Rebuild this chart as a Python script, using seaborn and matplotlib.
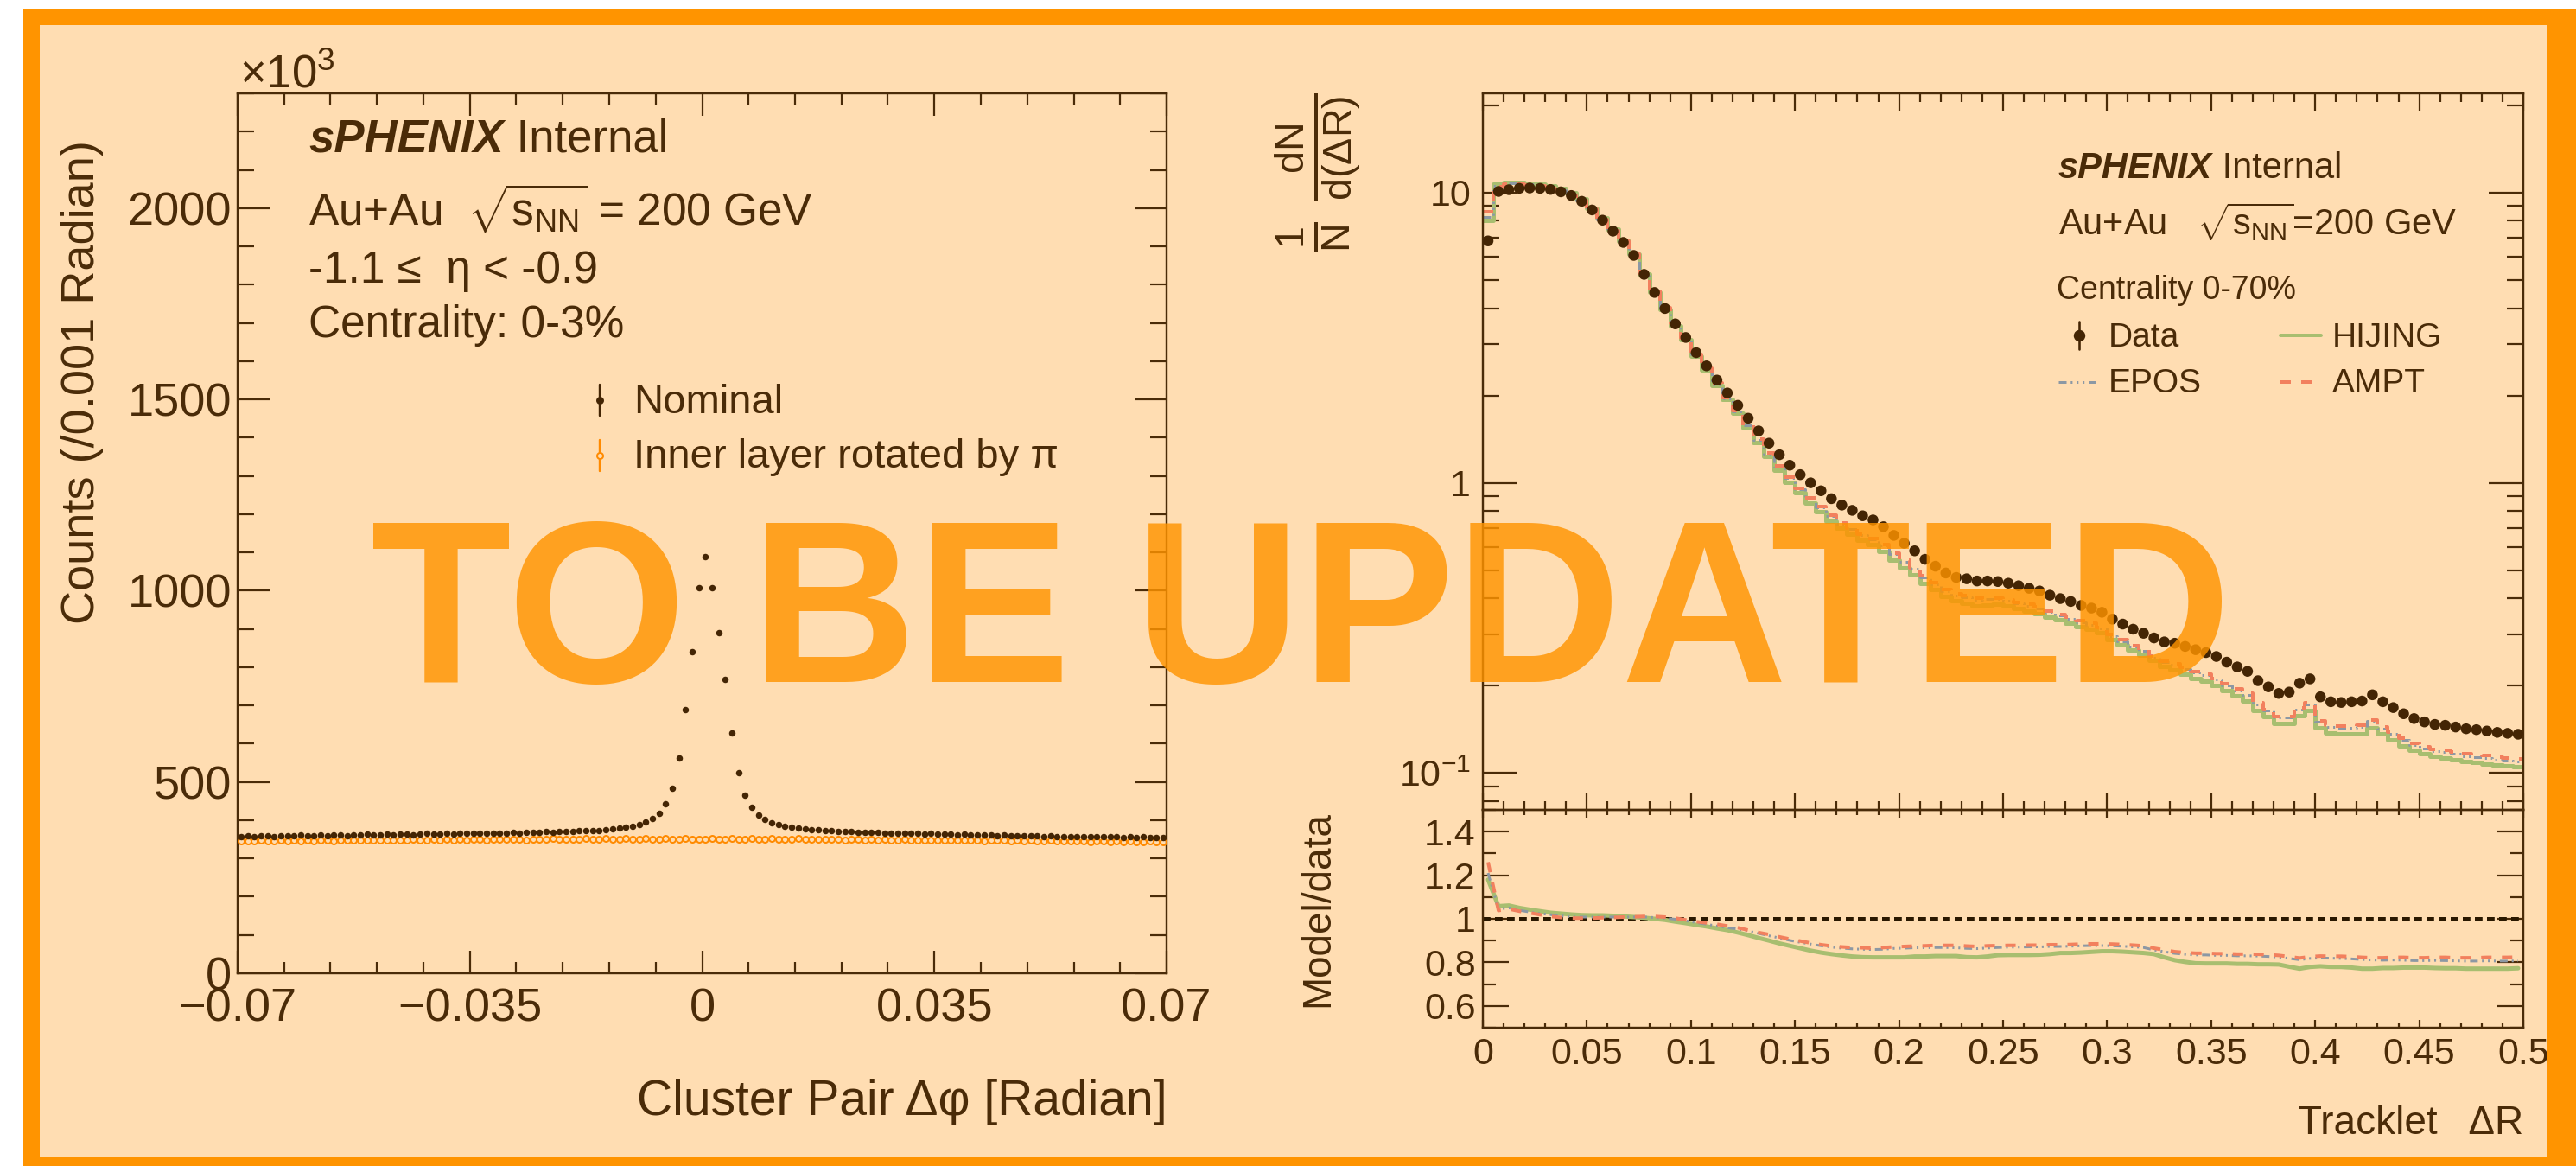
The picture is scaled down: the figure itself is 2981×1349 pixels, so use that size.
import numpy as np
import pandas as pd
import seaborn as sns
import matplotlib
matplotlib.use("Agg")
import matplotlib.pyplot as plt
from matplotlib.patches import Rectangle
from matplotlib.lines import Line2D
from matplotlib.ticker import FixedLocator, FixedFormatter, MultipleLocator, NullFormatter

# ---------------------------------------------------------------- data
# Left panel: cluster pair delta-phi, 140 bins of 0.001 rad in [-0.07, 0.07], counts in units of 10^3
dphi_edges = np.linspace(-0.07, 0.07, 141)
nominal_k = [
    358, 359, 357, 359, 360, 358, 359, 360, 359, 361,
    360, 359, 361, 360, 362, 361, 360, 362, 361, 363,
    362, 361, 363, 362, 364, 363, 362, 364, 365, 363,
    364, 365, 364, 366, 365, 366, 365, 367, 366, 367,
    367, 368, 367, 368, 369, 368, 370, 369, 370, 371,
    371, 372, 372, 373, 372, 376, 377, 379, 382, 385,
    389, 396, 405, 418, 442, 483, 563, 689, 841, 1008,
    1090, 1007, 891, 768, 627, 525, 465, 434, 413, 402,
    394, 388, 384, 381, 379, 377, 375, 374, 372, 372,
    371, 370, 370, 369, 369, 368, 368, 367, 367, 366,
    366, 365, 366, 364, 365, 364, 363, 364, 362, 363,
    362, 361, 362, 361, 360, 361, 360, 359, 360, 359,
    359, 358, 359, 358, 357, 358, 357, 358, 356, 357,
    356, 357, 356, 355, 356, 355, 356, 355, 354, 355]
inner_rotated_k = [
    345, 346, 345, 347, 346, 345, 347, 346, 347, 346,
    347, 346, 348, 347, 346, 348, 347, 348, 347, 349,
    348, 347, 349, 348, 349, 348, 350, 349, 348, 350,
    349, 350, 349, 350, 349, 351, 350, 349, 351, 350,
    350, 351, 350, 349, 351, 350, 351, 352, 350, 351,
    351, 350, 352, 351, 350, 352, 351, 350, 352, 351,
    351, 352, 350, 351, 352, 351, 350, 352, 351, 351,
    351, 352, 351, 350, 352, 351, 350, 352, 351, 350,
    352, 351, 350, 351, 352, 350, 351, 350, 351, 350,
    351, 349, 350, 351, 349, 350, 349, 350, 348, 349,
    350, 348, 349, 348, 349, 347, 348, 349, 347, 348,
    347, 348, 346, 347, 348, 347, 346, 347, 346, 347,
    346, 345, 347, 346, 345, 346, 345, 346, 344, 345,
    346, 344, 345, 344, 345, 344, 343, 345, 344, 344]

# Right panel: tracklet delta-R, 100 bins of 0.005 in [0, 0.5]
dr_edges = np.linspace(0.0, 0.5, 101)
data_dndr = [
    6.82, 10.1, 10.24, 10.35, 10.38, 10.35, 10.26, 10.07, 9.78, 9.34,
    8.72, 8.04, 7.37, 6.74, 6.08, 5.23, 4.53, 3.99, 3.53, 3.17,
    2.81, 2.53, 2.26, 2.04, 1.85, 1.67, 1.51, 1.37, 1.25, 1.15,
    1.067, 1.00, 0.939, 0.882, 0.838, 0.804, 0.770, 0.745, 0.706, 0.659,
    0.619, 0.583, 0.545, 0.516, 0.489, 0.472, 0.467, 0.459, 0.459, 0.457,
    0.451, 0.442, 0.433, 0.424, 0.410, 0.399, 0.390, 0.378, 0.370, 0.358,
    0.339, 0.326, 0.313, 0.303, 0.292, 0.283, 0.280, 0.273, 0.266, 0.260,
    0.252, 0.241, 0.232, 0.224, 0.208, 0.198, 0.188, 0.190, 0.204, 0.211,
    0.183, 0.176, 0.175, 0.176, 0.177, 0.186, 0.176, 0.168, 0.160, 0.154,
    0.150, 0.147, 0.146, 0.144, 0.142, 0.141, 0.1395, 0.138, 0.137, 0.136]
hijing_ratio = [
    1.18, 1.058, 1.061, 1.050, 1.042, 1.035, 1.028, 1.024, 1.020, 1.017,
    1.016, 1.016, 1.014, 1.011, 1.008, 1.005, 1.000, 0.995, 0.987, 0.980,
    0.972, 0.965, 0.956, 0.948, 0.937, 0.925, 0.912, 0.900, 0.887, 0.876,
    0.865, 0.854, 0.845, 0.838, 0.832, 0.827, 0.824, 0.823, 0.823, 0.823,
    0.823, 0.827, 0.827, 0.829, 0.829, 0.829, 0.824, 0.823, 0.827, 0.833,
    0.834, 0.834, 0.834, 0.835, 0.838, 0.843, 0.843, 0.845, 0.848, 0.851,
    0.851, 0.849, 0.846, 0.843, 0.838, 0.823, 0.810, 0.802, 0.796, 0.795,
    0.795, 0.795, 0.793, 0.793, 0.791, 0.791, 0.790, 0.780, 0.771, 0.779,
    0.782, 0.779, 0.779, 0.776, 0.771, 0.771, 0.774, 0.774, 0.776, 0.776,
    0.776, 0.774, 0.773, 0.773, 0.771, 0.771, 0.771, 0.771, 0.771, 0.773]
epos_ratio = [
    1.21, 1.045, 1.050, 1.039, 1.031, 1.024, 1.019, 1.014, 1.009, 1.008,
    1.008, 1.008, 1.008, 1.008, 1.008, 1.008, 1.006, 1.003, 0.998, 0.991,
    0.983, 0.975, 0.967, 0.959, 0.953, 0.944, 0.933, 0.922, 0.912, 0.901,
    0.892, 0.884, 0.876, 0.870, 0.865, 0.862, 0.860, 0.859, 0.860, 0.864,
    0.865, 0.867, 0.867, 0.868, 0.868, 0.867, 0.864, 0.863, 0.866, 0.868,
    0.870, 0.870, 0.871, 0.871, 0.873, 0.873, 0.874, 0.876, 0.877, 0.877,
    0.876, 0.874, 0.871, 0.868, 0.857, 0.849, 0.841, 0.837, 0.834, 0.834,
    0.832, 0.832, 0.830, 0.830, 0.829, 0.827, 0.824, 0.818, 0.812, 0.818,
    0.820, 0.819, 0.818, 0.816, 0.813, 0.811, 0.810, 0.811, 0.810, 0.808,
    0.808, 0.809, 0.808, 0.807, 0.806, 0.806, 0.807, 0.806, 0.806, 0.807]
ampt_ratio = [
    1.26, 1.038, 1.045, 1.035, 1.027, 1.019, 1.011, 1.006, 1.003, 1.003,
    1.003, 1.005, 1.006, 1.008, 1.009, 1.011, 1.011, 1.008, 1.003, 0.995,
    0.987, 0.981, 0.975, 0.967, 0.959, 0.948, 0.937, 0.928, 0.917, 0.907,
    0.898, 0.889, 0.881, 0.875, 0.871, 0.868, 0.867, 0.865, 0.868, 0.871,
    0.873, 0.875, 0.876, 0.878, 0.878, 0.878, 0.875, 0.873, 0.876, 0.877,
    0.878, 0.878, 0.879, 0.879, 0.881, 0.881, 0.882, 0.884, 0.885, 0.885,
    0.884, 0.882, 0.879, 0.876, 0.865, 0.857, 0.849, 0.845, 0.842, 0.842,
    0.840, 0.840, 0.838, 0.838, 0.837, 0.835, 0.832, 0.826, 0.820, 0.826,
    0.829, 0.828, 0.828, 0.826, 0.823, 0.821, 0.821, 0.823, 0.823, 0.821,
    0.821, 0.823, 0.823, 0.821, 0.821, 0.821, 0.823, 0.823, 0.823, 0.824]

left_xticks = [-0.07, -0.035, 0.0, 0.035, 0.07]
left_xticklabels = ["\u22120.07", "\u22120.035", "0", "0.035", "0.07"]
left_yticks = [0, 500, 1000, 1500, 2000]
left_yticklabels = ["0", "500", "1000", "1500", "2000"]
dr_ticks = [0, 0.05, 0.1, 0.15, 0.2, 0.25, 0.3, 0.35, 0.4, 0.45, 0.5]
dr_ticklabels = ["0", "0.05", "0.1", "0.15", "0.2", "0.25", "0.3", "0.35", "0.4", "0.45", "0.5"]
log_ticks = [0.1, 1, 10]
log_ticklabels = ["$10^{-1}$", "1", "10"]
ratio_ticks = [0.6, 0.8, 1.0, 1.2, 1.4]
ratio_ticklabels = ["0.6", "0.8", "1", "1.2", "1.4"]

# ---------------------------------------------------------------- style
BG = "#FFDDB2"
BORDER = "#FF9400"
DARK = "#4A2B08"
PT = "#442504"
ORANGE = "#FF8A00"
HIJ = "#A8BE70"
EPOS = "#8C98A4"
AMPT = "#F2805E"

sns.set_style("ticks")
plt.rcParams["font.family"] = ["Liberation Sans", "DejaVu Sans"]
plt.rcParams["mathtext.fontset"] = "custom"
plt.rcParams["mathtext.rm"] = "Liberation Sans"
plt.rcParams["mathtext.it"] = "Liberation Sans:italic"
plt.rcParams["mathtext.bf"] = "Liberation Sans:bold"
plt.rcParams["text.color"] = DARK
plt.rcParams["axes.unicode_minus"] = True

W, H, DPI = 2981, 1349, 100
PX = 72.0 / DPI  # points per pixel
fig = plt.figure(figsize=(W / DPI, H / DPI), dpi=DPI, facecolor="white")


def fx(px):
    return px / W


def fy(py):
    return 1.0 - py / H


# frame and background
fig.add_artist(Rectangle((fx(27), 0), 1 - fx(27), fy(10), transform=fig.transFigure,
                         facecolor=BORDER, edgecolor="none", zorder=-20))
fig.add_artist(Rectangle((fx(46), fy(1339)), fx(2947) - fx(46), fy(29) - fy(1339),
                         transform=fig.transFigure, facecolor=BG, edgecolor="none", zorder=-19))

ax_l = fig.add_axes([fx(275), fy(1126), fx(1350) - fx(275), fy(108) - fy(1126)])
ax_t = fig.add_axes([fx(1716), fy(937), fx(2920) - fx(1716), fy(108) - fy(937)])
ax_r = fig.add_axes([fx(1716), fy(1189), fx(2920) - fx(1716), fy(937) - fy(1189)])
for ax in (ax_l, ax_t, ax_r):
    ax.set_facecolor("none")
    for s in ax.spines.values():
        s.set_color(DARK)
        s.set_linewidth(2.4 * PX)
        s.set_visible(True)

# ---------------------------------------------------------------- left panel
dphi_centers = 0.5 * (dphi_edges[:-1] + dphi_edges[1:])
df_left = pd.DataFrame({"dphi": dphi_centers, "nominal": nominal_k, "inner": inner_rotated_k})
sns.lineplot(data=df_left, x="dphi", y="inner", ax=ax_l, linestyle="", marker="o",
             markersize=7.0 * PX, markerfacecolor="none", markeredgecolor=ORANGE,
             markeredgewidth=2.0 * PX, color=ORANGE, zorder=3)
sns.lineplot(data=df_left, x="dphi", y="nominal", ax=ax_l, linestyle="", marker="o",
             markersize=7.5 * PX, markerfacecolor=PT, markeredgecolor=PT,
             markeredgewidth=0, color=PT, zorder=4)
ax_l.set_xlim(-0.07, 0.07)
ax_l.set_ylim(0, 2300)
ax_l.xaxis.set_major_locator(FixedLocator(left_xticks))
ax_l.xaxis.set_major_formatter(FixedFormatter(left_xticklabels))
ax_l.xaxis.set_minor_locator(MultipleLocator(0.007))
ax_l.yaxis.set_major_locator(FixedLocator(left_yticks))
ax_l.yaxis.set_major_formatter(FixedFormatter(left_yticklabels))
ax_l.yaxis.set_minor_locator(MultipleLocator(100))
ax_l.set_xlabel("")
ax_l.set_ylabel("")
ax_l.tick_params(axis="both", which="both", direction="in", top=True, right=True,
                 color=DARK, width=2.2 * PX, labelcolor=DARK, labelsize=39)
ax_l.tick_params(axis="x", which="major", length=26 * PX, pad=12)
ax_l.tick_params(axis="x", which="minor", length=13 * PX)
ax_l.tick_params(axis="y", which="major", length=37 * PX, pad=5)
ax_l.tick_params(axis="y", which="minor", length=19 * PX)

fig.text(fx(277), fy(101), r"$\times$10$^{3}$", fontsize=38, color=DARK, va="baseline", ha="left")
fig.text(fx(95), fy(162), "Counts (/0.001 Radian)", rotation=90, rotation_mode="anchor",
         ha="right", va="center", fontsize=39, color=DARK)
fig.text(fx(1351), fy(1290), "Cluster Pair \u0394\u03c6 [Radian]", ha="right", va="baseline",
         fontsize=41, color=DARK)

t1 = fig.text(fx(357), fy(187), "sPHENIX", fontsize=38, fontweight="bold", fontstyle="italic",
              color=DARK, ha="left", va="bottom")
ax_l.annotate(" Internal", xy=(1, 0), xycoords=t1, fontsize=38, color=DARK, ha="left", va="bottom")
fig.text(fx(357), fy(262), r"Au+Au  $\sqrt{\mathrm{s}_{\mathrm{NN}}}$ = 200 GeV", fontsize=37,
         color=DARK, va="baseline")
fig.text(fx(357), fy(327), "-1.1 \u2264  \u03b7 < -0.9", fontsize=37, color=DARK, va="baseline")
fig.text(fx(357), fy(390), "Centrality: 0-3%", fontsize=37, color=DARK, va="baseline")

# left legend
fig.add_artist(Line2D([fx(694), fx(694)], [fy(445), fy(481)], transform=fig.transFigure,
                      color=PT, lw=2.4 * PX))
fig.add_artist(Line2D([fx(694)], [fy(463)], transform=fig.transFigure, marker="o", ls="",
                      markersize=7.5 * PX, color=PT, mec=PT))
fig.text(fx(733), fy(478), "Nominal", fontsize=34, color=DARK, va="baseline")
fig.add_artist(Line2D([fx(694), fx(694)], [fy(509), fy(545)], transform=fig.transFigure,
                      color=ORANGE, lw=2.4 * PX))
fig.add_artist(Line2D([fx(694)], [fy(527)], transform=fig.transFigure, marker="o", ls="",
                      markersize=7.0 * PX, mfc=BG, mec=ORANGE, mew=2.0 * PX))
fig.text(fx(733), fy(541), "Inner layer rotated by \u03c0", fontsize=34, color=DARK, va="baseline")

# ---------------------------------------------------------------- right panel
dr_centers = 0.5 * (dr_edges[:-1] + dr_edges[1:])
data_arr = np.asarray(data_dndr)
models = [
    ("HIJING", hijing_ratio, HIJ, 5.0, "-"),
    ("EPOS", epos_ratio, EPOS, 3.0, (0, (3, 1.6, 0.7, 1.6, 0.7, 1.6, 0.7, 1.6))),
    ("AMPT", ampt_ratio, AMPT, 4.0, (0, (3, 3))),
]
for name, ratio, col, lw, ls in models:
    df_m = pd.DataFrame({"dr": dr_centers, "w": np.asarray(ratio) * data_arr})
    sns.histplot(data=df_m, x="dr", weights="w", binwidth=0.005, binrange=(0.0, 0.5),
                 element="step", fill=False, color=col, linewidth=lw * PX, linestyle=ls,
                 ax=ax_t, zorder=2)
df_data = pd.DataFrame({"dr": dr_centers, "val": data_arr})
sns.scatterplot(data=df_data, x="dr", y="val", ax=ax_t, color=PT, s=(12.5 * PX) ** 2,
                edgecolor="none", linewidth=0, zorder=5)
ax_t.set_yscale("log")
ax_t.set_xlim(0, 0.5)
ax_t.set_ylim(0.0746, 22.0)
ax_t.set_xlabel("")
ax_t.set_ylabel("")
ax_t.xaxis.set_major_locator(FixedLocator(dr_ticks))
ax_t.xaxis.set_minor_locator(MultipleLocator(0.01))
ax_t.xaxis.set_major_formatter(NullFormatter())
ax_t.yaxis.set_major_locator(FixedLocator(log_ticks))
ax_t.yaxis.set_major_formatter(FixedFormatter(log_ticklabels))
minor_log = [m * 10.0 ** e for e in (-2, -1, 0, 1) for m in range(2, 10)]
ax_t.yaxis.set_minor_locator(FixedLocator(minor_log))
ax_t.yaxis.set_minor_formatter(NullFormatter())
ax_t.tick_params(axis="both", which="both", direction="in", top=True, right=True,
                 color=DARK, width=2.2 * PX, labelcolor=DARK, labelsize=31)
ax_t.tick_params(axis="x", which="major", length=20 * PX, labelbottom=False)
ax_t.tick_params(axis="x", which="minor", length=10 * PX)
ax_t.tick_params(axis="y", which="major", length=40 * PX, pad=10)
ax_t.tick_params(axis="y", which="minor", length=19 * PX)

df_ratio = pd.DataFrame({"dr": dr_centers, "HIJING": hijing_ratio, "EPOS": epos_ratio,
                         "AMPT": ampt_ratio})
ax_r.axhline(1.0, color="#2a1800", lw=4.0 * PX, ls=(0, (2.2, 1.3)), zorder=1)
for name, ratio, col, lw, ls in models:
    sns.lineplot(data=df_ratio, x="dr", y=name, ax=ax_r, color=col, linewidth=lw * PX,
                 linestyle=ls, zorder=3)
ax_r.set_xlim(0, 0.5)
ax_r.set_ylim(0.5, 1.5)
ax_r.set_xlabel("")
ax_r.set_ylabel("")
ax_r.xaxis.set_major_locator(FixedLocator(dr_ticks))
ax_r.xaxis.set_major_formatter(FixedFormatter(dr_ticklabels))
ax_r.xaxis.set_minor_locator(MultipleLocator(0.01))
ax_r.yaxis.set_major_locator(FixedLocator(ratio_ticks))
ax_r.yaxis.set_major_formatter(FixedFormatter(ratio_ticklabels))
ax_r.yaxis.set_minor_locator(MultipleLocator(0.1))
ax_r.tick_params(axis="both", which="both", direction="in", top=True, right=True,
                 color=DARK, width=2.2 * PX, labelcolor=DARK, labelsize=31)
ax_r.tick_params(axis="x", which="major", length=9 * PX, pad=8)
ax_r.tick_params(axis="x", which="minor", length=5.5 * PX)
ax_r.tick_params(axis="y", which="major", length=30 * PX, pad=6)
ax_r.tick_params(axis="y", which="minor", length=15 * PX)

fig.text(fx(1525), fy(108),
         r"$\frac{\mathrm{1}}{\mathrm{N}}\ \frac{\mathrm{dN}}{\mathrm{d(\Delta R)}}$",
         rotation=90, rotation_mode="anchor", ha="right", va="center", fontsize=48, color=DARK)
fig.text(fx(1525), fy(938), "Model/data", rotation=90, rotation_mode="anchor", ha="right",
         va="center", fontsize=33, color=DARK)
fig.text(fx(2920), fy(1312), "Tracklet   \u0394R", ha="right", va="baseline", fontsize=33,
         color=DARK)

t2 = fig.text(fx(2382), fy(215), "sPHENIX", fontsize=30, fontweight="bold", fontstyle="italic",
              color=DARK, ha="left", va="bottom")
ax_t.annotate(" Internal", xy=(1, 0), xycoords=t2, fontsize=30, color=DARK, ha="left", va="bottom")
fig.text(fx(2382), fy(272), r"Au+Au   $\sqrt{\mathrm{s}_{\mathrm{NN}}}$=200 GeV", fontsize=30,
         color=DARK, va="baseline")
fig.text(fx(2380), fy(346), "Centrality 0-70%", fontsize=27, color=DARK, va="baseline")

# right legend
fig.add_artist(Line2D([fx(2406), fx(2406)], [fy(372), fy(404)], transform=fig.transFigure,
                      color=PT, lw=2.6 * PX))
fig.add_artist(Line2D([fx(2406)], [fy(388)], transform=fig.transFigure, marker="o", ls="",
                      markersize=12 * PX, color=PT, mec=PT))
fig.text(fx(2440), fy(401), "Data", fontsize=28, color=DARK, va="baseline")
fig.add_artist(Line2D([fx(2639), fx(2686)], [fy(388), fy(388)], transform=fig.transFigure,
                      color=HIJ, lw=4.0 * PX))
fig.text(fx(2699), fy(401), "HIJING", fontsize=28, color=DARK, va="baseline")
fig.add_artist(Line2D([fx(2382), fx(2428)], [fy(442), fy(442)], transform=fig.transFigure,
                      color=EPOS, lw=3.0 * PX, ls=(0, (3, 1.6, 0.7, 1.6, 0.7, 1.6, 0.7, 1.6))))
fig.text(fx(2440), fy(454), "EPOS", fontsize=28, color=DARK, va="baseline")
fig.add_artist(Line2D([fx(2639), fx(2682)], [fy(442), fy(442)], transform=fig.transFigure,
                      color=AMPT, lw=4.0 * PX, ls=(0, (3, 3))))
fig.text(fx(2699), fy(454), "AMPT", fontsize=28, color=DARK, va="baseline")

# watermark
fig.text(fx(1506), fy(789), "TO BE UPDATED", ha="center", va="baseline", fontsize=192,
         fontweight="bold", color=BORDER, alpha=0.82, zorder=50)

fig.savefig("out.png", dpi=DPI, facecolor="white")
